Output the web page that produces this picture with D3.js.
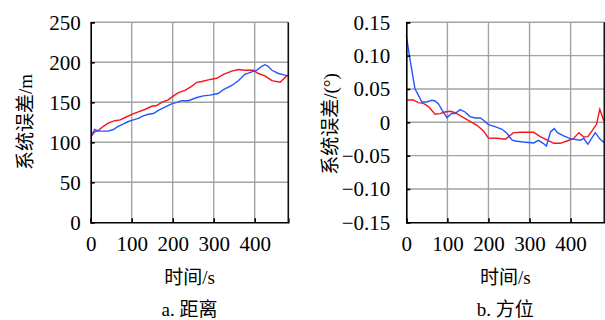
<!DOCTYPE html>
<html><head><meta charset="utf-8">
<script src="https://cdn.jsdelivr.net/npm/d3@7"></script>
<style>
body{margin:0;background:#fff;}
</style></head><body>
<svg id="c" width="605" height="320"></svg>
<script>
// ---- data ----
const xTicks = [0,100,200,300,400];
const distYTicks = [0,50,100,150,200,250];
const azYTicks = [-0.15,-0.10,-0.05,0,0.05,0.10,0.15];
const azYLabels = ["\u22120.15","\u22120.10","\u22120.05","0","0.05","0.10","0.15"];

const distRedT = [2,10,19,31,43,59,72,84,100,116,132,149,161,173,189,202,214,230,246,259,271,287,307,324,344,360,376,397,409,425,442,462,478,482];
const distRedV = [108,113,115,120,124,127,128,131,135,138,141,145,146,150,153,158,162,165,170,175,176,178,180,185,189,191,190,190,186,183,177,175,183,184];
const distBlueT = [2,10,19,31,43,55,67,80,92,104,116,128,141,153,165,181,197,210,222,238,259,275,291,311,324,344,360,376,393,405,417,425,433,442,458,474,482];
const distBlueV = [109,116,114,114,114,116,120,123,126,128,130,133,135,136,140,144,148,150,152,152,156,158,159,161,166,171,177,185,188,190,195,197,195,190,186,184,183];

const azBlueT = [0,9,21,38,50,62,70,78,86,99,111,119,131,143,155,168,180,188,200,216,233,245,257,265,285,310,322,333,341,351,360,368,383,399,424,432,442,460,472,482];
const azBlueV = [0.1305,0.0945,0.0505,0.0305,0.0305,0.033,0.032,0.028,0.0195,0.007,0.0135,0.013,0.019,0.0155,0.0085,0.0065,0.0065,0.003,-0.0035,-0.0065,-0.0105,-0.0165,-0.0265,-0.028,-0.0295,-0.031,-0.027,-0.0315,-0.0355,-0.0145,-0.0095,-0.0155,-0.0205,-0.0245,-0.027,-0.024,-0.033,-0.0155,-0.0255,-0.0305];
const azRedT = [0,17,29,42,54,70,82,94,107,119,135,151,172,188,200,221,241,261,282,310,326,342,359,375,391,407,420,432,442,452,463,471,481];
const azRedV = [0.0335,0.0335,0.0295,0.0285,0.0235,0.012,0.013,0.0155,0.0165,0.0145,0.0085,0.003,-0.0045,-0.013,-0.0235,-0.024,-0.0255,-0.0155,-0.015,-0.015,-0.0215,-0.0265,-0.0315,-0.0315,-0.028,-0.0245,-0.0155,-0.022,-0.0215,-0.013,-0.003,0.0195,0.002];

const svg = d3.select("#c");
const GRID = "#a3a3a3";
const RED = "#f5141e", BLUE = "#2455ff";
const SERIF = '"Liberation Serif", monospace';
const CJK = '"Noto Sans CJK SC", sans-serif';

function mixed(sel, str){
  // split into latin / CJK runs so digits use the serif face
  const runs = str.match(/[\u3000-\u9fff]+|[^\u3000-\u9fff]+/g);
  runs.forEach(r=>{
    sel.append("tspan").style("font-family", /[\u3000-\u9fff]/.test(r) ? CJK : SERIF).text(r);
  });
}

function panel(o){
  const g = svg.append("g");
  const x = d3.scaleLinear().domain([0,482]).range([o.x0,o.x1]);
  const y = d3.scaleLinear().domain(o.yd).range([222.3,22.3]);
  // grid
  g.selectAll(".vg").data(xTicks.slice(1)).enter().append("line")
    .attr("x1",d=>x(d)).attr("x2",d=>x(d)).attr("y1",y.range()[0]).attr("y2",y.range()[1])
    .attr("stroke",GRID).attr("stroke-width",1.4);
  g.selectAll(".hg").data(o.yt.slice(1)).enter().append("line")
    .attr("x1",o.x0).attr("x2",o.x1).attr("y1",d=>y(d)).attr("y2",d=>y(d))
    .attr("stroke",GRID).attr("stroke-width",1.4);
  // lines
  const ln = (T,V)=>d3.line().x((d,i)=>x(T[i])).y((d,i)=>y(V[i]))(T);
  g.append("path").attr("d",ln(o.rT,o.rV)).attr("fill","none").attr("stroke",RED).attr("stroke-width",1.4);
  g.append("path").attr("d",ln(o.bT,o.bV)).attr("fill","none").attr("stroke",BLUE).attr("stroke-width",1.4);
  // axes
  const ya = d3.axisLeft(y).tickValues(o.yt).tickSize(-4).tickPadding(o.pad).tickFormat((d,i)=>o.yl[i]);
  const ga = g.append("g").attr("transform",`translate(${o.x0},0)`).call(ya);
  const xa = d3.axisBottom(x).tickValues(xTicks).tickSize(-4).tickPadding(14);
  const gx = g.append("g").attr("transform",`translate(0,222.3)`).call(xa);
  [ga,gx].forEach(a=>{
    a.attr("font-family",SERIF).attr("font-size",21);
    a.select(".domain").attr("stroke","#000").attr("stroke-width",1.6);
    a.selectAll(".tick line").attr("stroke","#000").attr("stroke-width",1.6);
    a.selectAll("text").style("font-size","21px").style("font-family",SERIF).attr("fill","#000");
  });
  // right border
  g.append("line").attr("x1",o.x1).attr("x2",o.x1).attr("y1",22.3).attr("y2",222.3)
    .attr("stroke","#111").attr("stroke-width",1.6);
  // titles
  const cx = (o.x0+o.x1)/2;
  const t = (sel)=>sel.style("font-size","19px").attr("fill","#000");
  mixed(t(g.append("text").attr("x",cx).attr("y",284).attr("text-anchor","middle")),"时间/s");
  mixed(t(g.append("text").attr("x",cx).attr("y",316).attr("text-anchor","middle")),o.cap);
  mixed(t(g.append("text").attr("transform",`translate(${o.tx},${o.ty}) rotate(-90)`).attr("text-anchor","middle")
    .attr("dy","0.35em")),o.title);
}

panel({x0:90.7,x1:288.3,yd:[0,250],yt:distYTicks,yl:distYTicks.map(String),pad:10,
  rT:distRedT,rV:distRedV,bT:distBlueT,bV:distBlueV,cap:"a. 距离",title:"系统误差/m",tx:25,ty:122});
panel({x0:406.3,x1:604.3,yd:[-0.15,0.15],yt:azYTicks,yl:azYLabels,pad:16,
  rT:azRedT,rV:azRedV,bT:azBlueT,bV:azBlueV,cap:"b. 方位",title:"系统误差/(°)",tx:330,ty:124});
</script></body></html>
